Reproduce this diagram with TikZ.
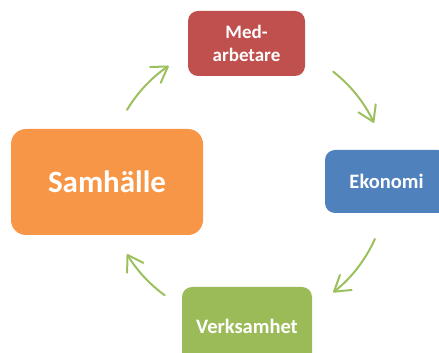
\documentclass[tikz,border=0pt]{standalone}
\usepackage{fontspec}
\setmainfont{Carlito}
\usetikzlibrary{arrows.meta}
\definecolor{medred}{HTML}{C0504D}
\definecolor{ekoblue}{HTML}{4F81BD}
\definecolor{verkgreen}{HTML}{9BBB59}
\definecolor{samorange}{HTML}{F79646}
\definecolor{arrgreen}{HTML}{9DC05E}
\begin{document}
\begin{tikzpicture}[x=1pt,y=1pt,
  box/.style={rounded corners=10pt, inner sep=0pt, text=white, align=center},
  cyc/.style={draw=arrgreen, line width=2pt, line cap=round,
    -{Straight Barb[length=15pt,width=19pt,line width=2pt,round]}}]
\useasboundingbox (0,0) rectangle (439,353);
\clip (0,0) rectangle (439,353);
\node[box, fill=medred, minimum width=117pt, minimum height=65pt,
  font=\bfseries\fontsize{19}{23}\selectfont] (med) at (246.5,309.5) {Med-\\arbetare};
\node[box, fill=ekoblue, minimum width=123pt, minimum height=63pt,
  font=\bfseries\fontsize{20.5}{24}\selectfont] (eko) at (386.5,171.5) {Ekonomi};
\node[box, fill=verkgreen, minimum width=130pt, minimum height=79pt,
  font=\bfseries\fontsize{20.5}{24}\selectfont] (verk) at (247,26.5) {Verksamhet};
\node[box, rounded corners=15pt, fill=samorange, minimum width=192pt, minimum height=106pt,
  font=\bfseries\fontsize{31}{36}\selectfont] (sam) at (107,171) {Samhälle};
\coordinate (c) at (247,171);
\draw[cyc] ([shift={(149:140)}]c) arc[start angle=149, end angle=124, radius=140];
\draw[cyc] ([shift={(52:140)}]c) arc[start angle=52, end angle=25, radius=140];
\draw[cyc] ([shift={(-24:140)}]c) arc[start angle=-24, end angle=-52, radius=140];
\draw[cyc] ([shift={(-126:140)}]c) arc[start angle=-126, end angle=-149, radius=140];
\end{tikzpicture}
\end{document}
